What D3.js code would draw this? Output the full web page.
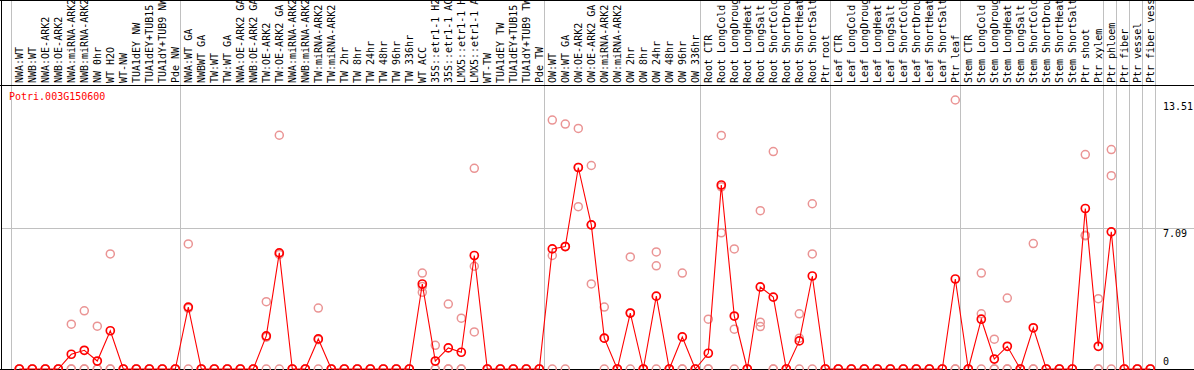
<!DOCTYPE html>
<html>
<head lang="en">
  <meta charset="UTF-8">
  <title>Potri.003G150600 expression</title>
</head>
<style>
  body { margin: 0; background: #fff; }
  #chart text { font-family: "DejaVu Sans Mono", monospace; font-size: 10px; }
  #chart .grid { stroke: #c0c0c0; stroke-width: 1; }
  #chart .frame { stroke: #000; stroke-width: 1; }
  #chart .rep { fill: none; stroke: #ea9494; stroke-width: 1.5; }
  #chart .mean { fill: none; stroke: #ff0000; stroke-width: 1.7; }
  #chart .trend { fill: none; stroke: #ff0000; stroke-width: 1.1; }
</style>
<body>

<svg id="chart"></svg>

<script src="https://cdn.jsdelivr.net/npm/d3@7"></script>
<script>
  var geneName = 'Potri.003G150600';

  var categories = [
    'NWA:WT', 'NWB:WT', 'NWA:OE-ARK2', 'NWB:OE-ARK2', 'NWA:miRNA-ARK2', 'NWB:miRNA-ARK2',
    'NW 0hr', 'WT H2O', 'WT-NW', 'TUA1dEY NW', 'TUA1dEY+TUB15 NW', 'TUA1dY+TUB9 NW', 'Pde NW',
    'NWA:WT GA', 'NWBWT GA', 'TW:WT', 'TW:WT GA', 'NWA:OE-ARK2 GA', 'NWB:OE-ARK2 GA',
    'TW:OE-ARK2', 'TW:OE-ARK2 GA', 'NWA:miRNA-ARK2', 'NWB:miRNA-ARK2', 'TW:miRNA-ARK2',
    'TW:miRNA-ARK2', 'TW 2hr', 'TW 8hr', 'TW 24hr', 'TW 48hr', 'TW 96hr', 'TW 336hr', 'WT ACC',
    '35S::etr1-1 H2O', '35S::etr1-1 ACC', 'LMX5::etr1-1 H2O', 'LMX5::etr1-1 ACC', 'WT-TW',
    'TUA1dEY TW', 'TUA1dEY+TUB15 TW', 'TUA1dY+TUB9 TW', 'Pde TW',
    'OW:WT', 'OW:WT GA', 'OW:OE-ARK2', 'OW:OE-ARK2 GA', 'OW:miRNA-ARK2', 'OW:miRNA-ARK2',
    'OW 2hr', 'OW 8hr', 'OW 24hr', 'OW 48hr', 'OW 96hr', 'OW 336hr',
    'Root CTR', 'Root LongCold', 'Root LongDrought', 'Root LongHeat', 'Root LongSalt',
    'Root ShortCold', 'Root ShortDrought', 'Root ShortHeat', 'Root ShortSalt', 'Ptr root',
    'Leaf CTR', 'Leaf LongCold', 'Leaf LongDrought', 'Leaf LongHeat', 'Leaf LongSalt',
    'Leaf ShortCold', 'Leaf ShortDrought', 'Leaf ShortHeat', 'Leaf ShortSalt', 'Ptr leaf',
    'Stem CTR', 'Stem LongCold', 'Stem LongDrought', 'Stem LongHeat', 'Stem LongSalt',
    'Stem ShortCold', 'Stem ShortDrought', 'Stem ShortHeat', 'Stem ShortSalt', 'Ptr shoot',
    'Ptr xylem', 'Ptr phloem', 'Ptr fiber', 'Ptr vessel', 'Ptr fiber vessel'
  ];

  // mean expression (red line)
  var meanValues = [
    0, 0, 0, 0, 0.74, 0.94, 0.40, 1.92, 0, 0, 0, 0, 0,
    3.11, 0, 0, 0, 0, 0, 1.66, 5.83, 0, 0, 1.51, 0, 0, 0, 0, 0, 0, 0, 4.27,
    0.40, 1.06, 0.84, 5.70, 0, 0, 0, 0, 0,
    6.03, 6.15, 10.12, 7.24, 1.55, 0, 2.81, 0, 3.66, 0, 1.61, 0,
    0.79, 9.24, 2.66, 0, 4.12, 3.61, 0, 1.41, 4.67, 0,
    0, 0, 0, 0, 0, 0, 0, 0, 0, 4.52,
    0, 2.50, 0.50, 1.14, 0, 2.07, 0, 0, 0, 8.06,
    1.14, 6.89, 0, 0, 0
  ];

  // replicates (pink circles)
  var rep1 = [
    0, 0, 0, 0, 2.25, 2.92, 2.15, 5.78, 0, 0, 0, 0, 0,
    6.28, 0, 0, 0, 0, 0, 3.38, 11.74, 0, 0, 3.06, 0, 0, 0, 0, 0, 0, 0, 4.82,
    1.19, 3.26, 2.55, 10.08, 0, 0, 0, 0, 0,
    12.50, 12.30, 12.08, 10.22, 3.11, 0, 5.63, 0, 5.88, 0, 4.82, 0,
    2.50, 11.73, 6.03, 0, 7.95, 10.92, 0, 2.77, 8.30, 0,
    0, 0, 0, 0, 0, 0, 0, 0, 0, 13.51,
    0, 4.82, 1.50, 3.56, 0, 6.30, 0, 0, 0, 10.77,
    3.53, 11.02, 0, 0, 0
  ];
  var rep2 = [
    0, 0, 0, 0, 0, 0, 0, 0, 0, 0, 0, 0, 0,
    3.05, 0, 0, 0, 0, 0, 1.60, 5.75, 0, 0, 1.47, 0, 0, 0, 0, 0, 0, 0, 4.14,
    0, 0, 0, 5.16, 0, 0, 0, 0, 0,
    5.70, 6.15, 10.12, 7.24, 1.55, 0, 2.81, 0, 5.18, 0, 0, 0,
    0, 9.15, 2.00, 0, 2.35, 0, 0, 1.55, 5.78, 0,
    0, 0, 0, 0, 0, 0, 0, 0, 0, 0,
    0, 2.77, 0, 0, 0, 0, 0, 0, 0, 6.72,
    0, 9.71, 0, 0, 0
  ];
  var rep3 = [
    0, 0, 0, 0, 0, 0, 0, 0, 0, 0, 0, 0, 0,
    0, 0, 0, 0, 0, 0, 0, 0, 0, 0, 0, 0, 0, 0, 0, 0, 0, 0, 3.85,
    0, 0, 0, 1.86, 0, 0, 0, 0, 0,
    0, 0, 8.15, 4.27, 0, 0, 0, 0, 0, 0, 0, 0,
    0, 6.84, 0, 0, 2.13, 0, 0, 0, 0, 0,
    0, 0, 0, 0, 0, 0, 0, 0, 0, 0,
    0, 0, 0, 0, 0, 0, 0, 0, 0, 6.69,
    0, 0, 0, 0, 0
  ];

  var yTicks = [0, 7.09, 13.51];
  var yMax = 13.51;

  // index of first sample in each tissue group, plus the end
  var groupBreaks = [0, 13, 41, 53, 63, 73, 84, 85, 86, 87, 88];

  var width = 1194;
  var height = 370;
  var labelBase = 85;
  var plotBottom = 369;
  var plotTop = 100;

  var svg = d3.select('#chart')
    .attr('width', width)
    .attr('height', height);

  var x = d3.scaleBand()
    .domain(d3.range(categories.length))
    .range([12.8, 12.8 + categories.length * 13]);

  var y = d3.scaleLinear()
    .domain([0, yMax])
    .range([plotBottom, plotTop]);

  function cx(i) { return x(i) + x.bandwidth() / 2; }

  // grid
  svg.selectAll('line.vgrid')
    .data(groupBreaks)
    .enter().append('line')
    .attr('class', 'grid')
    .attr('x1', function (b) { return Math.floor(x.range()[0] + b * x.bandwidth() - 1.5) + 0.5; })
    .attr('x2', function (b) { return Math.floor(x.range()[0] + b * x.bandwidth() - 1.5) + 0.5; })
    .attr('y1', 0)
    .attr('y2', height);

  svg.selectAll('line.hgrid')
    .data(yTicks.filter(function (t) { return t > 0 && t < yMax; }))
    .enter().append('line')
    .attr('class', 'grid')
    .attr('x1', 1)
    .attr('x2', width)
    .attr('y1', function (t) { return Math.round(y(t)) + 0.5; })
    .attr('y2', function (t) { return Math.round(y(t)) + 0.5; });

  // frame
  svg.append('line').attr('class', 'frame').attr('x1', 0).attr('x2', width).attr('y1', 0.5).attr('y2', 0.5);
  svg.append('line').attr('class', 'frame').attr('x1', 0).attr('x2', width).attr('y1', labelBase + 0.5).attr('y2', labelBase + 0.5);
  svg.append('line').attr('class', 'frame').attr('x1', 1.5).attr('x2', 1.5).attr('y1', 0).attr('y2', height);
  svg.append('line').attr('class', 'frame').attr('x1', 0).attr('x2', width).attr('y1', plotBottom + 0.5).attr('y2', plotBottom + 0.5);

  // category labels
  svg.append('g')
    .selectAll('text')
    .data(categories)
    .enter().append('text')
    .attr('transform', function (d, i) { return 'translate(' + (cx(i) + 3.5) + ',' + (labelBase - 2) + ') rotate(-90)'; })
    .text(function (d) { return d; });

  // gene name
  svg.append('text')
    .attr('x', 9)
    .attr('y', 100)
    .attr('fill', '#ff0000')
    .text(geneName);

  // y labels
  svg.append('g')
    .selectAll('text')
    .data(yTicks)
    .enter().append('text')
    .attr('x', 1163)
    .attr('y', function (t) { return t === 0 ? y(t) - 4 : y(t) + 9.5; })
    .text(function (t) { return t === 0 ? '0' : t.toFixed(2); });

  // replicates
  var reps = [];
  categories.forEach(function (c, i) {
    [rep1, rep2, rep3].forEach(function (r) { reps.push({ i: i, v: r[i] }); });
  });

  svg.append('g')
    .selectAll('circle')
    .data(reps)
    .enter().append('circle')
    .attr('class', 'rep')
    .attr('cx', function (d) { return cx(d.i); })
    .attr('cy', function (d) { return y(d.v); })
    .attr('r', 4);

  // mean line
  var line = d3.line()
    .x(function (d, i) { return cx(i); })
    .y(function (d) { return y(d); });

  svg.append('path')
    .datum(meanValues)
    .attr('class', 'trend')
    .attr('d', line);

  svg.append('g')
    .selectAll('circle')
    .data(meanValues)
    .enter().append('circle')
    .attr('class', 'mean')
    .attr('cx', function (d, i) { return cx(i); })
    .attr('cy', function (d) { return y(d); })
    .attr('r', 4);

</script>
</body>
</html>
